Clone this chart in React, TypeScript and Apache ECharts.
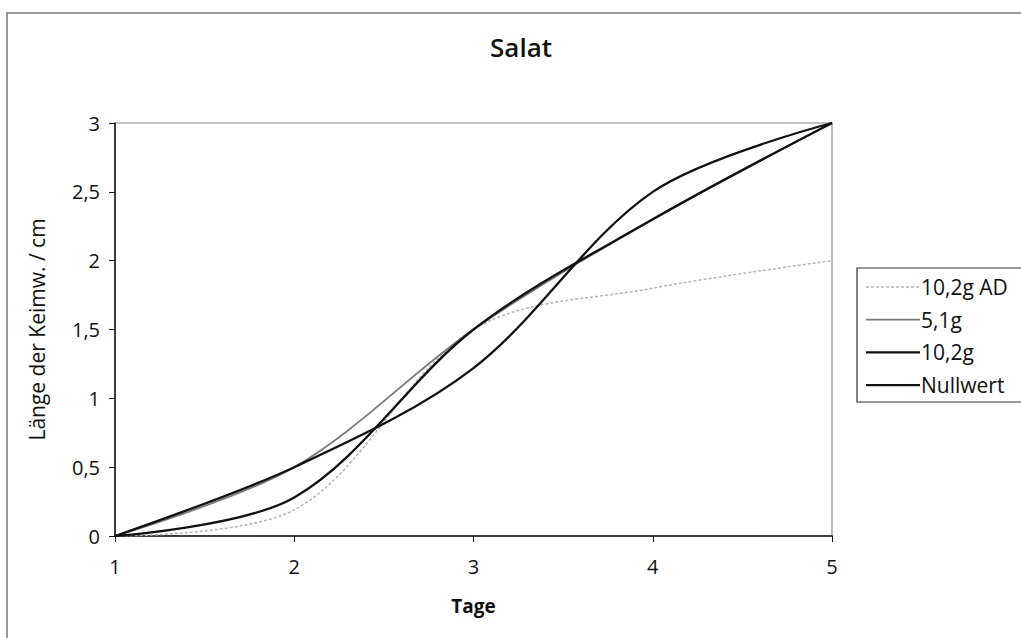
import React, { useEffect, useRef } from "react";
import * as echarts from "echarts";

const days = ["1", "2", "3", "4", "5"];
const seriesNames = ["10,2g AD", "5,1g", "10,2g", "Nullwert"];
const ad102 = [0, 0.19, 1.5, 1.8, 2];
const g51 = [0, 0.5, 1.5, 2.3, 3];
const g102 = [0, 0.28, 1.5, 2.3, 3];
const nullwert = [0, 0.5, 1.22, 2.5, 3];
const yTicks = { min: 0, max: 3, interval: 0.5 };

const FONT = "'Open Sans', 'Noto Sans', sans-serif";
const COLORS = ["#b5b5b5", "#7a7a7a", "#111111", "#111111"];
const WIDTHS = [1.5, 1.8, 2.3, 2.3];
const DASHES: any[] = [[3, 2], "solid", "solid", "solid"];

export default function App() {
  const ref = useRef<HTMLDivElement>(null);
  useEffect(() => {
    if (!ref.current) return;
    const chart = echarts.init(ref.current, undefined, { renderer: "svg" });
    const datasets = [ad102, g51, g102, nullwert];
    const legendTop = 268;
    const legendGraphics: any[] = [
      {
        type: "rect",
        shape: { x: 857, y: legendTop, width: 200, height: 134 },
        style: { fill: "#fff", stroke: "#333", lineWidth: 1.2 },
        silent: true,
        z: 10,
      },
    ];
    seriesNames.forEach((n, i) => {
      const y = 287 + i * 32.7;
      legendGraphics.push({
        type: "line",
        shape: { x1: 866, y1: y, x2: 920, y2: y },
        style: { stroke: COLORS[i], lineWidth: WIDTHS[i], lineDash: DASHES[i] === "solid" ? null : DASHES[i] },
        silent: true,
        z: 11,
      });
      legendGraphics.push({
        type: "text",
        x: 921,
        y,
        style: {
          text: n,
          fontFamily: FONT,
          fontSize: 21,
          fill: "#111",
          textVerticalAlign: "middle",
          verticalAlign: "middle",
        },
        silent: true,
        z: 11,
      });
    });
    chart.setOption({
      animation: false,
      backgroundColor: "#ffffff",
      textStyle: { fontFamily: FONT, color: "#1a1a1a" },
      title: {
        text: "Salat",
        left: 516,
        top: 29,
        textAlign: "center",
        textStyle: { fontFamily: FONT, fontSize: 26, fontWeight: 600, color: "#111" },
      },
      graphic: [
        {
          type: "rect",
          shape: { x: 7, y: 13, width: 1040, height: 660 },
          style: { fill: "none", stroke: "#777", lineWidth: 1.5 },
          silent: true,
        },
        ...legendGraphics,
      ],
      grid: {
        left: 115,
        top: 123,
        right: 189,
        bottom: 102,
        show: true,
        borderColor: "#888",
        borderWidth: 1.2,
        backgroundColor: "transparent",
      },
      xAxis: {
        type: "category",
        data: days,
        boundaryGap: false,
        name: "Tage",
        nameLocation: "middle",
        nameGap: 60,
        nameTextStyle: { fontFamily: FONT, fontSize: 19, fontWeight: "bold", color: "#111" },
        axisLine: { lineStyle: { color: "#111", width: 1.5 } },
        axisTick: { show: true, length: 6, inside: false, lineStyle: { color: "#111" } },
        axisLabel: { fontSize: 20, color: "#111", margin: 20 },
        splitLine: { show: false },
      },
      yAxis: {
        type: "value",
        min: yTicks.min,
        max: yTicks.max,
        interval: yTicks.interval,
        name: "Länge der Keimw. / cm",
        nameLocation: "middle",
        nameGap: 68,
        nameRotate: 90,
        nameTextStyle: { fontFamily: FONT, fontSize: 21, color: "#111" },
        axisLine: { show: true, lineStyle: { color: "#111", width: 1.5 } },
        axisTick: { show: true, length: 6, lineStyle: { color: "#111" } },
        axisLabel: {
          fontSize: 20,
          color: "#111",
          margin: 15,
          formatter: (v: number) => String(v).replace(".", ","),
        },
        splitLine: { show: false },
      },
      series: seriesNames.map((name, i) => ({
        name,
        type: "line",
        data: datasets[i],
        smooth: 0.33,
        symbol: "none",
        z: 2 + i,
        lineStyle: { color: COLORS[i], width: WIDTHS[i], type: DASHES[i] },
        itemStyle: { color: COLORS[i] },
      })),
    });
    return () => chart.dispose();
  }, []);
  return (
    <div
      ref={ref}
      style={{ position: "fixed", left: 0, top: 0, width: 1021, height: 638 }}
    />
  );
}
